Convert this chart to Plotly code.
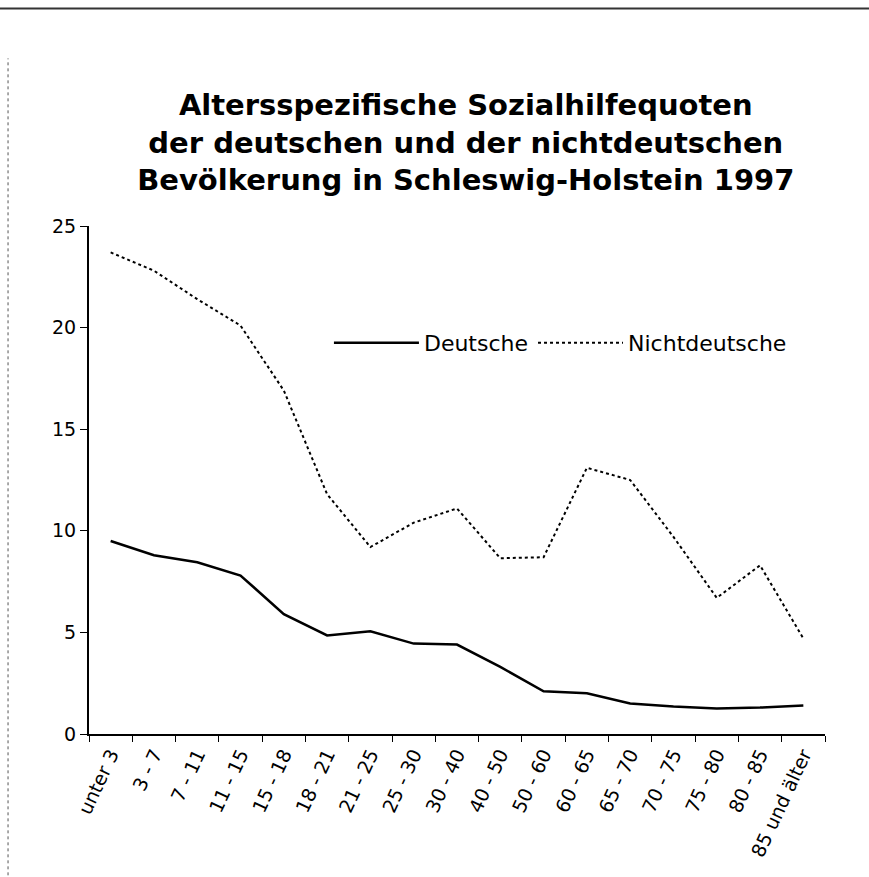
import plotly.graph_objects as go

# Altersgruppen
altersgruppen = ['unter 3', '3 - 7', '7 - 11', '11 - 15', '15 - 18', '18 - 21', '21 - 25',
                 '25 - 30', '30 - 40', '40 - 50', '50 - 60', '60 - 65', '65 - 70',
                 '70 - 75', '75 - 80', '80 - 85', '85 und älter']

# Sozialhilfequoten in %
deutsche = [9.5, 8.8, 8.45, 7.8, 5.9, 4.85, 5.05, 4.45, 4.4, 3.3, 2.1, 2.0, 1.5,
            1.35, 1.25, 1.3, 1.4]
nichtdeutsche = [23.7, 22.8, 21.4, 20.1, 16.9, 11.8, 9.2, 10.4, 11.1, 8.65, 8.7,
                 13.1, 12.5, 9.7, 6.7, 8.3, 4.7]

titel = ('Altersspezifische Sozialhilfequoten<br>'
         'der deutschen und der nichtdeutschen<br>'
         'Bevölkerung in Schleswig-Holstein 1997')

fig = go.Figure()
fig.add_trace(go.Scatter(x=altersgruppen, y=deutsche, name='Deutsche', mode='lines',
                         line=dict(color='black', width=2.5)))
fig.add_trace(go.Scatter(x=altersgruppen, y=nichtdeutsche, name='Nichtdeutsche', mode='lines',
                         line=dict(color='black', width=2, dash='dot')))

fig.update_layout(
    width=869, height=877,
    margin=dict(l=89, r=44, t=226, b=143),
    paper_bgcolor='white', plot_bgcolor='white',
    font=dict(family='DejaVu Sans', color='black', size=19),
    title=dict(text=titel, x=0.536, xanchor='center', y=1 - 115 / 877, yanchor='top',
               font=dict(family='DejaVu Sans', size=29, color='black', weight='bold')),
    legend=dict(orientation='h', x=0.326, y=0.77, xanchor='left', yanchor='middle',
                font=dict(size=22), itemwidth=85, bgcolor='rgba(0,0,0,0)'),
    showlegend=True,
)
fig.update_xaxes(type='category', range=[-0.5, len(altersgruppen) - 0.5],
                 showline=True, linecolor='black', linewidth=2,
                 ticks='outside', tickson='boundaries', ticklen=6, tickcolor='black',
                 tickangle=-65, showgrid=False, zeroline=False)
fig.update_yaxes(range=[0, 25], dtick=5, showline=True, linecolor='black', linewidth=2,
                 ticks='outside', ticklen=7, tickcolor='black', showgrid=False,
                 zeroline=False)

# Rand des Scans oben und links
fig.add_shape(type='line', xref='paper', yref='paper', x0=-0.125, x1=1.07,
              y0=1.428, y1=1.428, line=dict(color='#333333', width=2))
fig.add_shape(type='line', xref='paper', yref='paper', x0=-0.110, x1=-0.110,
              y0=-0.29, y1=1.33, line=dict(color='#555555', width=1, dash='dot'))

fig.write_html('out.html', config={'displayModeBar': False},
               post_script="document.body.style.margin = '0';")
